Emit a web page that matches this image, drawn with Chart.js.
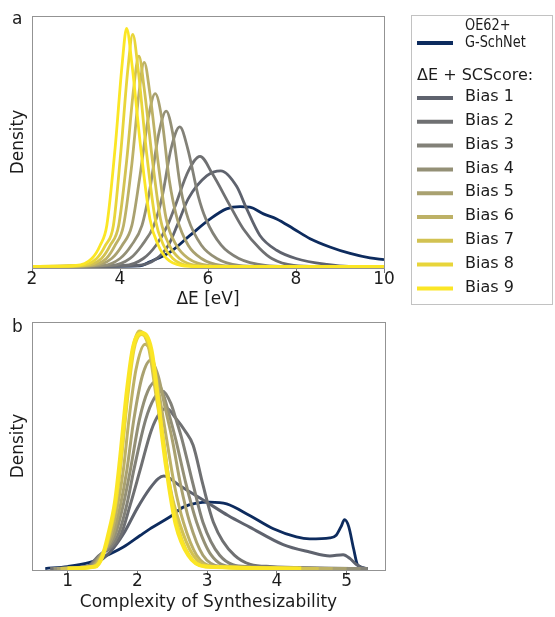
<!DOCTYPE html>
<html lang="en">
<head>
<meta charset="UTF-8">
<title>ΔE and SCScore densities</title>
<script src="https://cdn.jsdelivr.net/npm/chart.js"></script>
<style>
  html, body { margin: 0; padding: 0; background: #fff; }
  #wrap { position: relative; width: 555px; height: 617px; overflow: hidden; }
  #chartA { position: absolute; left: 0; top: 0; }
  #chartB { position: absolute; left: 0; top: 310px; }
</style>
</head>
<body>
<div id="wrap">
  <canvas id="chartA" width="555" height="310"></canvas>
  <canvas id="chartB" width="555" height="307"></canvas>
</div>
<script>
// series names / colours (legend order)
const seriesLabels = ['OE62+\nG-SchNet', 'Bias 1', 'Bias 2', 'Bias 3', 'Bias 4', 'Bias 5', 'Bias 6', 'Bias 7', 'Bias 8', 'Bias 9'];
const seriesColors = ['#0d2b5e', '#5f636e', '#6f7072', '#828178', '#949076', '#a9a170', '#bdb166', '#d2c252', '#e8d53a', '#fbe625'];
const legendTitle = 'ΔE + SCScore:';

const energyTicks = [2, 4, 6, 8, 10];
const scsTicks = [1, 2, 3, 4, 5];

// panel a: density vs ΔE [eV], [x, density]
const eOE = [[2,0],[4.45,0.003],[4.68,0.019],[5.14,0.058],[5.59,0.124],[6.05,0.19],[6.42,0.23],[6.73,0.239],[6.95,0.237],[7.26,0.21],[7.56,0.19],[7.94,0.151],[8.32,0.111],[8.77,0.078],[9.23,0.052],[9.68,0.034],[10,0.027]];
const eB1 = [[2,0],[4.4,0.004],[4.84,0.032],[5.1,0.085],[5.3,0.164],[5.55,0.27],[5.97,0.362],[6.29,0.382],[6.65,0.32],[6.88,0.23],[7.18,0.124],[7.56,0.065],[8.0,0.032],[8.7,0.008],[9.2,0],[10,0]];
const eB2 = [[2,0],[4.1,0.004],[4.53,0.032],[4.82,0.085],[5.08,0.164],[5.25,0.24],[5.55,0.38],[5.82,0.44],[6.1,0.37],[6.5,0.243],[6.8,0.151],[7.18,0.071],[7.45,0.032],[7.95,0.004],[8.5,0],[10,0]];
const eB3 = [[2,0],[3.8,0.004],[4.23,0.032],[4.5,0.085],[4.77,0.164],[4.96,0.28],[5.16,0.47],[5.36,0.557],[5.54,0.47],[5.78,0.28],[5.95,0.19],[6.3,0.085],[6.7,0.032],[7.3,0.004],[7.8,0],[10,0]];
const eB4 = [[2,0],[3.6,0.004],[4.0,0.032],[4.26,0.085],[4.5,0.164],[4.68,0.31],[4.88,0.53],[5.05,0.62],[5.2,0.53],[5.38,0.31],[5.55,0.19],[5.85,0.085],[6.2,0.032],[6.7,0.004],[7.2,0],[10,0]];
const eB5 = [[2,0],[3.4,0.004],[3.81,0.032],[4.05,0.085],[4.27,0.164],[4.44,0.345],[4.64,0.59],[4.8,0.69],[4.95,0.59],[5.12,0.345],[5.3,0.19],[5.55,0.085],[5.85,0.032],[6.3,0.004],[6.8,0],[10,0]];
const eB6 = [[2,0],[3.3,0.004],[3.69,0.032],[3.89,0.085],[4.08,0.164],[4.27,0.41],[4.43,0.69],[4.55,0.815],[4.68,0.69],[4.87,0.41],[5.05,0.19],[5.28,0.085],[5.55,0.032],[6.0,0.004],[6.5,0],[10,0]];
const eB7 = [[2,0],[3.2,0.004],[3.58,0.032],[3.78,0.085],[3.97,0.164],[4.15,0.42],[4.31,0.71],[4.43,0.84],[4.55,0.71],[4.74,0.42],[4.92,0.19],[5.12,0.085],[5.35,0.032],[5.75,0.004],[6.2,0],[10,0]];
const eB8 = [[2,0],[3.1,0.004],[3.47,0.032],[3.67,0.085],[3.85,0.164],[4.02,0.46],[4.18,0.79],[4.29,0.927],[4.41,0.79],[4.6,0.46],[4.8,0.19],[4.99,0.085],[5.2,0.032],[5.55,0.004],[6.0,0],[10,0]];
const eB9 = [[2,0],[3.0,0.004],[3.36,0.032],[3.55,0.085],[3.7,0.164],[3.89,0.475],[4.05,0.81],[4.15,0.95],[4.27,0.81],[4.47,0.475],[4.68,0.19],[4.87,0.085],[5.06,0.032],[5.4,0.004],[5.8,0],[10,0]];

// panel b: density vs complexity of synthesizability
const sOE = [[0.68,0],[1.0,0.008],[1.32,0.025],[1.5,0.045],[1.8,0.087],[2.04,0.134],[2.18,0.161],[2.47,0.21],[2.66,0.249],[3.04,0.269],[3.28,0.262],[3.61,0.215],[3.95,0.161],[4.28,0.128],[4.47,0.12],[4.76,0.124],[4.85,0.135],[4.92,0.17],[4.97,0.198],[5.03,0.17],[5.1,0.08],[5.16,0.013],[5.3,0]];
const sB1 = [[0.8,0],[1.2,0.005],[1.4,0.02],[1.61,0.067],[1.8,0.14],[2.0,0.245],[2.18,0.325],[2.3,0.365],[2.38,0.375],[2.61,0.336],[2.99,0.27],[3.3,0.215],[3.61,0.168],[4.09,0.097],[4.47,0.067],[4.76,0.051],[4.95,0.056],[5.05,0.04],[5.14,0.016],[5.24,0.002],[5.3,0]];
const sB2 = [[0.75,0],[1.28,0.008],[1.44,0.05],[1.76,0.134],[1.9,0.26],[2.04,0.40],[2.2,0.56],[2.32,0.63],[2.42,0.65],[2.55,0.61],[2.68,0.56],[2.8,0.5],[2.94,0.34],[3.09,0.188],[3.39,0.054],[3.9,0.008],[5.3,0]];
const sB3 = [[0.8,0],[1.3,0.008],[1.45,0.05],[1.72,0.134],[1.85,0.26],[1.95,0.40],[2.12,0.605],[2.24,0.69],[2.36,0.72],[2.48,0.67],[2.56,0.6],[2.64,0.524],[2.8,0.34],[2.94,0.188],[3.18,0.054],[3.56,0.008],[5.3,0]];
const sB4 = [[0.8,0],[1.32,0.008],[1.46,0.05],[1.68,0.134],[1.8,0.26],[1.9,0.40],[2.03,0.605],[2.15,0.72],[2.27,0.76],[2.38,0.70],[2.46,0.62],[2.55,0.524],[2.7,0.34],[2.85,0.188],[3.06,0.054],[3.35,0.008],[5.2,0]];
const sB5 = [[0.85,0],[1.34,0.008],[1.47,0.05],[1.65,0.134],[1.76,0.26],[1.85,0.40],[1.95,0.605],[2.07,0.78],[2.19,0.845],[2.3,0.78],[2.4,0.65],[2.5,0.524],[2.62,0.34],[2.75,0.188],[2.94,0.054],[3.2,0.008],[5.0,0]];
const sB6 = [[0.9,0],[1.36,0.008],[1.48,0.05],[1.62,0.134],[1.72,0.26],[1.8,0.40],[1.88,0.605],[1.98,0.806],[2.11,0.91],[2.23,0.84],[2.33,0.68],[2.42,0.524],[2.53,0.34],[2.66,0.188],[2.85,0.054],[3.1,0.008],[4.8,0]];
const sB7 = [[0.9,0],[1.38,0.008],[1.49,0.05],[1.6,0.134],[1.69,0.26],[1.76,0.42],[1.84,0.66],[1.93,0.88],[2.03,0.963],[2.16,0.9],[2.27,0.7],[2.37,0.524],[2.47,0.33],[2.6,0.188],[2.8,0.054],[3.05,0.008],[4.6,0]];
const sB8 = [[1.0,0],[1.4,0.008],[1.5,0.05],[1.59,0.134],[1.69,0.27],[1.76,0.43],[1.86,0.70],[1.95,0.89],[2.06,0.95],[2.19,0.89],[2.29,0.70],[2.37,0.524],[2.46,0.34],[2.56,0.188],[2.74,0.054],[2.98,0.008],[4.3,0]];
const sB9 = [[1.0,0],[1.4,0.008],[1.5,0.05],[1.58,0.134],[1.68,0.27],[1.75,0.44],[1.85,0.72],[1.94,0.9],[2.07,0.955],[2.2,0.89],[2.3,0.68],[2.36,0.524],[2.45,0.34],[2.55,0.18],[2.73,0.054],[2.97,0.008],[4.35,0]];

const energySeries = [eOE, eB1, eB2, eB3, eB4, eB5, eB6, eB7, eB8, eB9];
const scsSeries = [sOE, sB1, sB2, sB3, sB4, sB5, sB6, sB7, sB8, sB9];

const FONT = 'DejaVu Sans';
const TEXT = '#1c1c1c';

function makeDatasets(series, widths) {
    return series.map((pts, i) => ({
        label: seriesLabels[i],
        data: pts.map(p => ({ x: p[0], y: p[1] })),
        borderColor: seriesColors[i],
        backgroundColor: seriesColors[i],
        borderWidth: widths[i],
        pointRadius: 0,
        fill: false,
        cubicInterpolationMode: 'monotone',
        order: 10 - i   // bias 9 on top, OE62 underneath
    }));
}

// grey frame round the plot area + panel letter
const framePlugin = {
    id: 'frame',
    afterDraw(chart, args, opts) {
        const { ctx, chartArea: a } = chart;
        ctx.save();
        ctx.strokeStyle = '#939393';
        ctx.lineWidth = 1;
        ctx.strokeRect(Math.round(a.left) + 0.5, Math.round(a.top) + 0.5, Math.round(a.right - a.left), Math.round(a.bottom - a.top));
        ctx.fillStyle = TEXT;
        ctx.font = '17px "' + FONT + '"';
        ctx.textAlign = 'left';
        ctx.textBaseline = 'middle';
        ctx.fillText(opts.letter, opts.lx, opts.ly);
        ctx.restore();
    }
};

// legend box on the right of panel a
const sideLegend = {
    id: 'sideLegend',
    afterDraw(chart) {
        const ctx = chart.ctx;
        const ds = chart.data.datasets;
        ctx.save();
        ctx.strokeStyle = '#c2c2c2';
        ctx.lineWidth = 1;
        ctx.strokeRect(411.5, 15.5, 141, 289);
        ctx.fillStyle = TEXT;
        ctx.textAlign = 'left';
        ctx.textBaseline = 'middle';

        // first entry: two narrower lines of text
        ctx.strokeStyle = ds[0].borderColor;
        ctx.lineWidth = 4;
        ctx.beginPath(); ctx.moveTo(417, 43); ctx.lineTo(453, 43); ctx.stroke();
        ctx.font = '15px "' + FONT + '"';
        ds[0].label.split('\n').forEach((t, k) => {
            ctx.save();
            ctx.translate(465, 26 + k * 17);
            ctx.scale(0.86, 1);
            ctx.fillText(t, 0, 0);
            ctx.restore();
        });

        ctx.font = '16px "' + FONT + '"';
        ctx.fillText(legendTitle, 417, 76);

        for (let i = 1; i < ds.length; i++) {
            const y = 98 + (i - 1) * 23.8;
            ctx.strokeStyle = ds[i].borderColor;
            ctx.lineWidth = 4;
            ctx.beginPath(); ctx.moveTo(417, y); ctx.lineTo(453, y); ctx.stroke();
            ctx.fillText(ds[i].label, 465, y - 1);
        }
        ctx.restore();
    }
};

function axisFont() { return { family: FONT, size: 17 }; }

function baseOptions(o) {
    return {
        responsive: false,
        animation: false,
        events: [],
        layout: { padding: o.padding },
        plugins: {
            legend: { display: false },
            tooltip: { enabled: false },
            frame: { letter: o.letter, lx: 12, ly: o.letterY }
        },
        scales: {
            x: {
                type: 'linear',
                min: o.xMin,
                max: o.xMax,
                afterBuildTicks: s => { s.ticks = o.ticks.map(v => ({ value: v })); },
                afterFit: s => { s.height = o.xAxisH; },
                grid: { display: true, drawOnChartArea: false, drawTicks: true, tickLength: 5, color: '#7a7a7a' },
                border: { display: false },
                ticks: { font: axisFont(), color: TEXT, padding: -4, maxRotation: 0, autoSkip: false },
                title: { display: true, text: o.xTitle, font: axisFont(), color: TEXT, padding: { top: 0, bottom: o.xTitlePad } }
            },
            y: {
                type: 'linear',
                min: -0.006,
                max: 1,
                afterFit: s => { s.width = 32; },
                grid: { display: false },
                border: { display: false },
                ticks: { display: false },
                title: { display: true, text: 'Density', font: axisFont(), color: TEXT, padding: { top: 8, bottom: 0 } }
            }
        }
    };
}

new Chart(document.getElementById('chartA'), {
    type: 'line',
    data: { datasets: makeDatasets(energySeries, [2.8, 2.8, 2.8, 2.8, 2.8, 2.8, 2.8, 2.8, 2.8, 2.8]) },
    options: baseOptions({
        padding: { left: 0, top: 16, right: 171, bottom: 0 },
        letter: 'a', letterY: 20,
        xMin: 2, xMax: 10, ticks: energyTicks,
        xAxisH: 42, xTitle: 'ΔE [eV]', xTitlePad: 0
    }),
    plugins: [framePlugin, sideLegend]
});

new Chart(document.getElementById('chartB'), {
    type: 'line',
    data: { datasets: makeDatasets(scsSeries, [2.8, 3, 3, 3, 3, 3, 3, 3.2, 3.5, 4]) },
    options: baseOptions({
        padding: { left: 0, top: 12, right: 170, bottom: 0 },
        letter: 'b', letterY: 18,
        xMin: 0.49, xMax: 5.55, ticks: scsTicks,
        xAxisH: 47, xTitle: 'Complexity of Synthesizability', xTitlePad: 4
    }),
    plugins: [framePlugin]
});
</script>
</body>
</html>
